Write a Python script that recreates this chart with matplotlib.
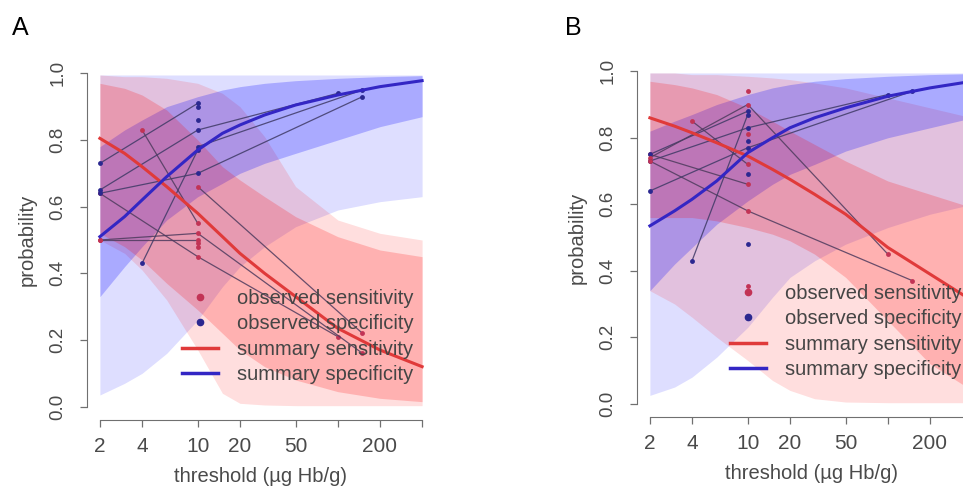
import matplotlib
matplotlib.use('Agg')
import matplotlib.pyplot as plt
from matplotlib.lines import Line2D

plt.rcParams['font.family'] = ['Liberation Sans', 'DejaVu Sans']

grid = [2, 3, 4, 6, 10, 15, 20, 30, 50, 100, 200, 400]

# ---- panel A ----
a_sens = [0.805, 0.76, 0.72, 0.66, 0.58, 0.51, 0.46, 0.40, 0.33, 0.235, 0.17, 0.12]
a_spec = [0.51, 0.57, 0.62, 0.69, 0.77, 0.82, 0.845, 0.875, 0.905, 0.935, 0.96, 0.978]
a_sens_ci_lo = [0.52, 0.48, 0.44, 0.37, 0.29, 0.22, 0.17, 0.12, 0.08, 0.045, 0.025, 0.015]
a_sens_ci_hi = [0.97, 0.955, 0.935, 0.89, 0.80, 0.72, 0.68, 0.63, 0.57, 0.51, 0.47, 0.45]
a_sens_pi_lo = [0.50, 0.46, 0.41, 0.32, 0.17, 0.04, 0.01, 0.005, 0.003, 0.003, 0.003, 0.003]
a_sens_pi_hi = [0.995, 0.99, 0.99, 0.985, 0.97, 0.94, 0.90, 0.81, 0.66, 0.56, 0.52, 0.50]
a_spec_ci_lo = [0.33, 0.42, 0.48, 0.56, 0.63, 0.67, 0.70, 0.73, 0.76, 0.80, 0.84, 0.87]
a_spec_ci_hi = [0.78, 0.83, 0.86, 0.90, 0.93, 0.95, 0.96, 0.97, 0.978, 0.985, 0.99, 0.993]
a_spec_pi_lo = [0.035, 0.07, 0.10, 0.16, 0.26, 0.36, 0.42, 0.48, 0.54, 0.59, 0.615, 0.63]
a_spec_pi_hi = [0.995] * 12

# observed studies, panel A
a_thr = [[2, 10], [2, 10, 100], [2, 10, 150], [4, 10], [10, 150], [10], [10]]
a_obs_sens = [[0.50, 0.50], [0.64, 0.45, 0.21], [0.50, 0.52, 0.16], [0.83, 0.55],
              [0.66, 0.22], [0.48], [0.49]]
a_obs_spec = [[0.73, 0.91], [0.65, 0.83, 0.94], [0.64, 0.70, 0.93], [0.43, 0.77],
              [0.78, 0.95], [0.86], [0.90]]

# ---- panel B ----
b_sens = [0.86, 0.835, 0.815, 0.785, 0.745, 0.705, 0.675, 0.63, 0.57, 0.47, 0.39, 0.31]
b_spec = [0.535, 0.58, 0.615, 0.67, 0.755, 0.80, 0.83, 0.86, 0.89, 0.925, 0.95, 0.97]
b_sens_ci_lo = [0.56, 0.56, 0.56, 0.55, 0.53, 0.51, 0.49, 0.45, 0.38, 0.25, 0.12, 0.04]
b_sens_ci_hi = [0.97, 0.96, 0.95, 0.93, 0.89, 0.85, 0.82, 0.78, 0.73, 0.67, 0.63, 0.59]
b_sens_pi_lo = [0.34, 0.30, 0.26, 0.20, 0.13, 0.07, 0.04, 0.015, 0.005, 0.003, 0.003, 0.003]
b_sens_pi_hi = [0.995, 0.995, 0.99, 0.99, 0.985, 0.98, 0.975, 0.965, 0.95, 0.92, 0.89, 0.86]
b_spec_ci_lo = [0.34, 0.42, 0.47, 0.54, 0.61, 0.66, 0.69, 0.72, 0.76, 0.80, 0.83, 0.86]
b_spec_ci_hi = [0.82, 0.85, 0.87, 0.90, 0.93, 0.95, 0.96, 0.97, 0.978, 0.985, 0.99, 0.993]
b_spec_pi_lo = [0.025, 0.05, 0.08, 0.14, 0.23, 0.32, 0.38, 0.43, 0.48, 0.53, 0.57, 0.60]
b_spec_pi_hi = [0.995] * 12

b_thr = [[2, 10], [2, 10, 100], [2, 10, 150], [4, 10], [10], [10], [10]]
b_obs_sens = [[0.75, 0.66], [0.74, 0.90, 0.45], [0.73, 0.58, 0.37], [0.85, 0.72],
              [0.94], [0.355], [0.81]]
b_obs_spec = [[0.75, 0.88], [0.73, 0.83, 0.93], [0.64, 0.77, 0.94], [0.43, 0.87],
              [0.69], [0.48], [0.79]]

xticks = [2, 4, 10, 20, 50, 100, 200, 400]
xticklabels = ['2', '4', '10', '20', '50', '', '200', '']
yticks = [0.0, 0.2, 0.4, 0.6, 0.8, 1.0]

RED = '#e03a3a'
BLUE = '#3326c4'
TXT = '#4a4a4a'
AX = '#707070'


def draw_panel(ax, sens, spec, s_ci, s_pi, p_ci, p_pi, thr, o_sens, o_spec):
    # prediction and confidence regions
    ax.fill_between(grid, p_pi[0], p_pi[1], color='blue', alpha=0.13, lw=0)
    ax.fill_between(grid, s_pi[0], s_pi[1], color='red', alpha=0.13, lw=0)
    ax.fill_between(grid, p_ci[0], p_ci[1], color='blue', alpha=0.23, lw=0)
    ax.fill_between(grid, s_ci[0], s_ci[1], color='red', alpha=0.2, lw=0)

    # observed studies
    for t, se, sp in zip(thr, o_sens, o_spec):
        ax.plot(t, se, color='#4e3b5e', lw=0.9, alpha=0.85)
        ax.plot(t, sp, color='#3f3a66', lw=0.9, alpha=0.85)
        ax.plot(t, se, 'o', color='#c23355', ms=3.5, mec='none')
        ax.plot(t, sp, 'o', color='#2b2890', ms=3.5, mec='none')

    # summary curves
    ax.plot(grid, sens, color=RED, lw=2.2)
    ax.plot(grid, spec, color=BLUE, lw=2.2)

    ax.set_xscale('log')
    ax.set_xlim(1.618, 494.4)
    ax.set_ylim(-0.04, 1.04)
    ax.set_xticks(xticks)
    ax.set_xticklabels(xticklabels)
    ax.minorticks_off()
    ax.set_yticks(yticks)
    ax.set_yticklabels(['0.0', '0.2', '0.4', '0.6', '0.8', '1.0'],
                       rotation=90, va='center')
    ax.tick_params(axis='x', direction='out', length=5, width=0.9, color=AX,
                   labelsize=15, labelcolor=TXT, pad=7)
    ax.tick_params(axis='y', direction='out', length=5, width=0.9, color=AX,
                   labelsize=13.5, labelcolor=TXT, pad=10)
    for s in ['top', 'right']:
        ax.spines[s].set_visible(False)
    ax.spines['left'].set_bounds(0, 1)
    ax.spines['bottom'].set_bounds(2, 400)
    ax.spines['left'].set_color(AX)
    ax.spines['bottom'].set_color(AX)
    ax.patch.set_alpha(0)

    ax.set_xlabel('threshold (\u00b5g Hb/g)', fontsize=14.5, color=TXT)
    ax.set_ylabel('probability', fontsize=14.5, color=TXT)
    ax.xaxis.set_label_coords(0.5, -0.13)
    ax.yaxis.set_label_coords(-0.145, 0.5)


fig = plt.figure(figsize=(9.63, 4.88), dpi=100)
axA = fig.add_axes([87 / 963, 68 / 488, 348 / 963, 360 / 488])
axB = fig.add_axes([637 / 963, 71 / 488, 348 / 963, 359 / 488])

draw_panel(axA, a_sens, a_spec, (a_sens_ci_lo, a_sens_ci_hi), (a_sens_pi_lo, a_sens_pi_hi),
           (a_spec_ci_lo, a_spec_ci_hi), (a_spec_pi_lo, a_spec_pi_hi),
           a_thr, a_obs_sens, a_obs_spec)
draw_panel(axB, b_sens, b_spec, (b_sens_ci_lo, b_sens_ci_hi), (b_sens_pi_lo, b_sens_pi_hi),
           (b_spec_ci_lo, b_spec_ci_hi), (b_spec_pi_lo, b_spec_pi_hi),
           b_thr, b_obs_sens, b_obs_spec)

handles = [Line2D([], [], ls='none', marker='o', color='#c23355', ms=4.5),
           Line2D([], [], ls='none', marker='o', color='#2b2890', ms=4.5),
           Line2D([], [], color=RED, lw=2.5),
           Line2D([], [], color=BLUE, lw=2.5)]
labels = ['observed sensitivity', 'observed specificity',
          'summary sensitivity', 'summary specificity']
for ax, lx, ly in [(axA, 182 / 963, 1 - 289 / 488), (axB, 730 / 963, 1 - 284 / 488)]:
    leg = ax.legend(handles, labels, loc='upper left', bbox_to_anchor=(lx, ly),
                    bbox_transform=fig.transFigure, frameon=False, fontsize=14.5,
                    handlelength=1.8, handletextpad=0.95, labelspacing=0.32,
                    borderpad=0, borderaxespad=0)
    for t in leg.get_texts():
        t.set_color('#454545')

fig.text(12 / 963, 1 - 35 / 488, 'A', fontsize=18, color='black')
fig.text(565 / 963, 1 - 35 / 488, 'B', fontsize=18, color='black')

fig.savefig('out.png', dpi=100)
